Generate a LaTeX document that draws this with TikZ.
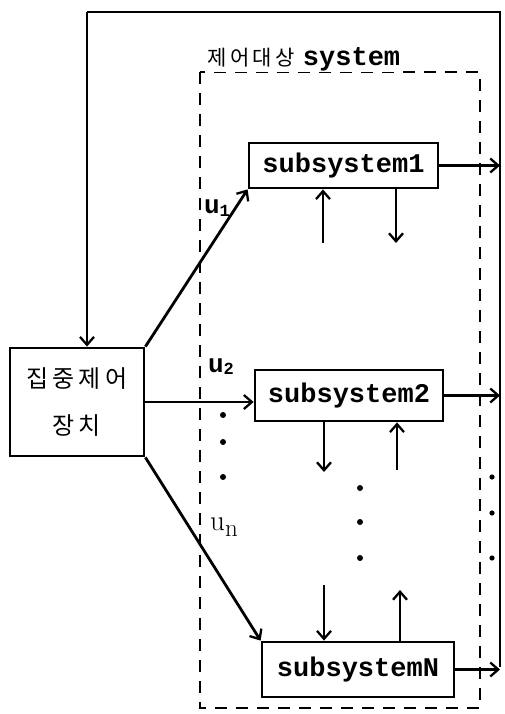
\documentclass[tikz,border=0pt]{standalone}
\usepackage{fontspec}
\newfontfamily\monof{Liberation Mono}
\newfontfamily\kr{Noto Sans CJK KR}
\usetikzlibrary{arrows.meta}
\tikzset{
  ln/.style={line width=2.8pt},
  arr/.style={ln, -{Straight Barb[length=8pt,width=14pt,line width=2.3pt]}},
  subbox/.style={draw, ln, inner sep=0pt, font=\monof\bfseries\fontsize{27}{27}\selectfont},
  dashbox/.style={line width=2.6pt, dash pattern=on 12pt off 9pt},
  dot/.style={fill=black},
  lab/.style={inner sep=0pt}
}
\begin{document}
\begin{tikzpicture}[x=1pt,y=-1pt]
\useasboundingbox (0,0) rectangle (504,714);
% dashed frame of controlled system
\draw[dashbox] (200,72) rectangle (480,708);
\node[lab, anchor=base west, fill=white, inner xsep=2pt] (title) at (205,66)
  {{\kr\fontsize{21}{21}\selectfont 제\,어\,대\,상}\hspace{8pt}{\monof\bfseries\fontsize{27}{27}\selectfont system}};
% controller
\node[draw, ln, minimum width=134pt, minimum height=108pt, inner sep=0pt, align=center] (ctrl) at (77,402)
  {{\kr\fontsize{24}{24}\selectfont 집\,중\,제\,어}\\[24pt]{\kr\fontsize{24}{24}\selectfont 장\,치}};
% subsystems
\node[subbox, minimum width=189pt, minimum height=45pt] (s1) at (343.5,165.5) {subsystem1};
\node[subbox, minimum width=188pt, minimum height=51pt] (s2) at (349,395.5) {subsystem2};
\node[subbox, minimum width=192pt, minimum height=55pt] (sN) at (358,669.5) {subsystemN};
% feedback loop coordinates
\coordinate (rb) at (500,667);
\coordinate (rt) at (500,12);
\coordinate (lt) at (87,12);
\draw[ln] (rb) -- (rt) -- (lt);
\draw[arr] (lt) -- (lt |- ctrl.north);
% outputs
\draw[arr] (s1.east) -- (s1.east -| rt);
\draw[arr] (s2.east) -- (s2.east -| rt);
\draw[arr] (sN.east) -- (sN.east -| rt);
% control inputs
\draw[arr] (ctrl.north east) -- (s1.south west);
\draw[arr] (ctrl.east) -- (ctrl.east -| s2.west);
\draw[arr] (ctrl.south east) -- (sN.north west);
\node[lab] (u1) at (217,208) {\monof\bfseries\fontsize{26}{26}\selectfont u\raisebox{-3pt}{\fontsize{17}{17}\selectfont 1}};
\node[lab] (u2) at (221,367) {\monof\bfseries\fontsize{26}{26}\selectfont u\raisebox{-2pt}{\fontsize{17}{17}\selectfont 2}};
\node[lab] (un) at (224,527) {\fontsize{29}{29}\selectfont u\raisebox{-6pt}{\fontsize{25}{25}\selectfont n}};
% local interaction arrows
\coordinate (a1) at (323,243);
\coordinate (b1) at (396,243);
\draw[arr] (a1) -- (a1 |- s1.south);
\draw[arr] (b1 |- s1.south) -- (b1);
\coordinate (a2) at (324,472);
\coordinate (b2) at (397,470);
\draw[arr] (a2 |- s2.south) -- (a2);
\draw[arr] (b2) -- (b2 |- s2.south);
\coordinate (aN) at (324,585);
\coordinate (bN) at (400,590);
\draw[arr] (aN) -- (aN |- sN.north);
\draw[arr] (bN |- sN.north) -- (bN);
% ellipsis dots
\foreach \y in {415,442,477} \fill[dot] (223,\y) circle (3pt);
\foreach \y in {488,522,558} \fill[dot] (360,\y) circle (3pt);
\foreach \y in {477,513,558} \fill[dot] (492,\y) circle (2.6pt);
\end{tikzpicture}
\end{document}
